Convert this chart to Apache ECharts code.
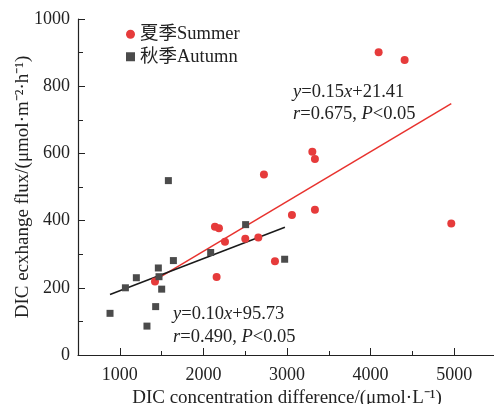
<!DOCTYPE html>
<html>
<head>
<meta charset="utf-8">
<script src="https://cdn.jsdelivr.net/npm/echarts@6/dist/echarts.min.js"></script>
<style>
  html, body { margin: 0; padding: 0; background: #fff; }
  #main { width: 494px; height: 404px; }
</style>
</head>
<body>
<div id="main"></div>
<script>
// 夏季 summer points [DIC difference, flux]
var summerPoints = [
  [1421, 219], [2138, 382], [2186, 377], [2258, 337], [2158, 232],
  [2501, 346], [2657, 350], [2856, 279], [2724, 537], [3059, 417],
  [3334, 432], [3303, 605], [3334, 583], [4096, 901], [4407, 878],
  [4965, 391]
];
// 秋季 autumn points
var autumnPoints = [
  [883, 124], [1067, 200], [1198, 230], [1461, 259], [1469, 233],
  [1501, 196], [1429, 144], [1325, 86], [1641, 281], [1581, 519],
  [2087, 305], [2505, 388], [2972, 285]
];
// fitted lines, end points
var summerFit = [[1421, 223], [4965, 748]];
var autumnFit = [[883, 180], [2975, 380]];

var xTickLabels = [1000, 2000, 3000, 4000, 5000];

var serif = 'Liberation Serif, "Times New Roman", "Noto Sans CJK SC", serif';
var ink = '#222';
var fs = 18.5;

var myChart = echarts.init(document.getElementById('main'));

function plain(v) { return String(v); }

var option = {
  animation: false,
  grid: {
    left: 78,
    right: -2,
    top: 19,
    bottom: 49,
    outerBoundsMode: 'none'
  },
  legend: {
    left: 121,
    top: 20,
    orient: 'vertical',
    itemWidth: 9,
    itemHeight: 9,
    itemGap: 4,
    textStyle: { fontFamily: serif, fontSize: fs, color: ink },
    data: [
      { name: '夏季Summer', icon: 'circle', itemStyle: { color: '#e63b3b' } },
      { name: '秋季Autumn', icon: 'rect', itemStyle: { color: '#4b4b4b' } }
    ]
  },
  xAxis: [
    {
      type: 'value',
      min: 500,
      max: 5500,
      interval: 500,
      name: 'DIC concentration difference/(μmol·L⁻¹)',
      nameLocation: 'middle',
      nameGap: 34,
      nameMoveOverlap: false,
      nameTextStyle: { fontFamily: serif, fontSize: 19, color: ink },
      splitLine: { show: false },
      axisLine: { onZero: false, lineStyle: { color: ink, width: 1.2 } },
      axisTick: { inside: true, length: 7, customValues: xTickLabels, lineStyle: { color: ink } },
      axisLabel: {
        fontFamily: serif, fontSize: 18, color: ink, margin: 11,
        customValues: xTickLabels,
        formatter: plain
      }
    },
    {
      // short ticks every 500
      type: 'value',
      position: 'bottom',
      min: 500,
      max: 5500,
      interval: 500,
      splitLine: { show: false },
      axisLine: { show: false, onZero: false },
      axisTick: { inside: true, length: 4, lineStyle: { color: ink } },
      axisLabel: { show: false }
    }
  ],
  yAxis: {
    type: 'value',
    min: 0,
    max: 1000,
    interval: 200,
    name: 'DIC ecxhange flux/(μmol·m⁻²·h⁻¹)',
    nameLocation: 'middle',
    nameGap: 45,
    nameMoveOverlap: false,
    nameTextStyle: { fontFamily: serif, fontSize: 19, color: ink },
    splitLine: { show: false },
    axisLine: { show: true, lineStyle: { color: ink, width: 1.2 } },
    axisTick: { inside: true, length: 7, lineStyle: { color: ink } },
    minorTick: { show: true, splitNumber: 2, length: 5, lineStyle: { color: ink } },
    axisLabel: { fontFamily: serif, fontSize: 18, color: ink, margin: 8, formatter: plain }
  },
  series: [
    {
      name: '夏季Summer',
      type: 'line',
      data: summerFit,
      symbol: 'none',
      z: 1,
      lineStyle: { color: '#e8322e', width: 1.5 },
      itemStyle: { color: '#e63b3b' }
    },
    {
      name: '秋季Autumn',
      type: 'line',
      data: autumnFit,
      symbol: 'none',
      z: 1,
      lineStyle: { color: '#1a1a1a', width: 1.5 },
      itemStyle: { color: '#4b4b4b' }
    },
    {
      name: '夏季Summer',
      type: 'scatter',
      data: summerPoints,
      symbol: 'circle',
      symbolSize: 8,
      z: 3,
      itemStyle: { color: '#e63b3b', opacity: 1 }
    },
    {
      name: '秋季Autumn',
      type: 'scatter',
      data: autumnPoints,
      symbol: 'rect',
      symbolSize: 7,
      z: 3,
      itemStyle: { color: '#4b4b4b', opacity: 1 }
    }
  ],
  graphic: [
    {
      type: 'text', left: 293, top: 83,
      style: {
        text: '{i|y}=0.15{i|x}+21.41',
        fontFamily: serif, fontSize: fs, fill: ink,
        rich: { i: { fontStyle: 'italic', fontFamily: serif, fontSize: fs } }
      }
    },
    {
      type: 'text', left: 293, top: 105,
      style: {
        text: '{i|r}=0.675, {i|P}<0.05',
        fontFamily: serif, fontSize: fs, fill: ink,
        rich: { i: { fontStyle: 'italic', fontFamily: serif, fontSize: fs } }
      }
    },
    {
      type: 'text', left: 173, top: 305,
      style: {
        text: '{i|y}=0.10{i|x}+95.73',
        fontFamily: serif, fontSize: fs, fill: ink,
        rich: { i: { fontStyle: 'italic', fontFamily: serif, fontSize: fs } }
      }
    },
    {
      type: 'text', left: 173, top: 328,
      style: {
        text: '{i|r}=0.490, {i|P}<0.05',
        fontFamily: serif, fontSize: fs, fill: ink,
        rich: { i: { fontStyle: 'italic', fontFamily: serif, fontSize: fs } }
      }
    }
  ]
};

myChart.setOption(option);
</script>
</body>
</html>
